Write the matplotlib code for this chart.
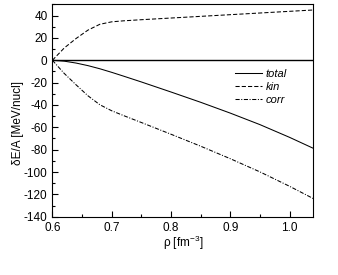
import numpy as np
import matplotlib
matplotlib.use("Agg")
import matplotlib.pyplot as plt
from matplotlib.ticker import MultipleLocator

plt.rcParams['font.family'] = ['Liberation Sans', 'DejaVu Sans']
plt.rcParams['mathtext.default'] = 'regular'
plt.rcParams['axes.unicode_minus'] = False

## values
rho = [0.60, 0.62, 0.64, 0.66, 0.68, 0.70, 0.72, 0.75, 0.80, 0.85, 0.90, 0.95, 1.00, 1.04]
total = [0, -0.8, -2.5, -4.8, -7.6, -10.8, -14.2, -19.4, -28.4, -37.6, -47.3, -57.6, -69.0, -78.8]
kin = [0, 11, 19.5, 27, 32.2, 34.4, 35.3, 36.3, 37.8, 39.3, 40.8, 42.3, 43.8, 45]
corr = [0, -11.8, -22.0, -31.8, -39.8, -45.2, -49.5, -55.7, -66.2, -76.9, -88.1, -99.9, -112.8, -123.8]

fig = plt.figure(figsize=(3.38, 2.75), dpi=100)
ax = fig.add_axes([0.155, 0.212, 0.772, 0.772])

ax.axhline(0, color='black', lw=1.0)
ax.plot(rho, total, color='black', lw=0.75, label='total')
ax.plot(rho, kin, color='black', lw=0.75, dashes=(4, 2), label='kin')
ax.plot(rho, corr, color='black', lw=0.75, dashes=(4, 1.5, 1, 1.5), label='corr')

ax.set_xlim(0.6, 1.04)
ax.set_ylim(-140, 50)
ax.xaxis.set_major_locator(MultipleLocator(0.1))
ax.xaxis.set_minor_locator(MultipleLocator(0.05))
ax.yaxis.set_major_locator(MultipleLocator(20))
ax.yaxis.set_minor_locator(MultipleLocator(10))
ax.tick_params(which='both', direction='in', labelsize=8.5, width=0.8)
ax.tick_params(which='major', length=4)
ax.tick_params(which='minor', length=2)
for s in ax.spines.values():
  s.set_linewidth(0.8)

ax.set_xlabel('ρ [fm$^{-3}$]', fontsize=8.5, labelpad=0)
ax.set_ylabel('δE/A [MeV/nucl]', fontsize=8.5)
ax.yaxis.set_label_coords(-0.11, 0.443)

leg = ax.legend(loc='upper right', bbox_to_anchor=(0.915, 0.718), frameon=False,
                fontsize=8, handlelength=2.4, labelspacing=0.3, handletextpad=0.3,
                borderaxespad=0)
for t in leg.get_texts():
  t.set_fontstyle('italic')

fig.savefig('out.png', dpi=100)
